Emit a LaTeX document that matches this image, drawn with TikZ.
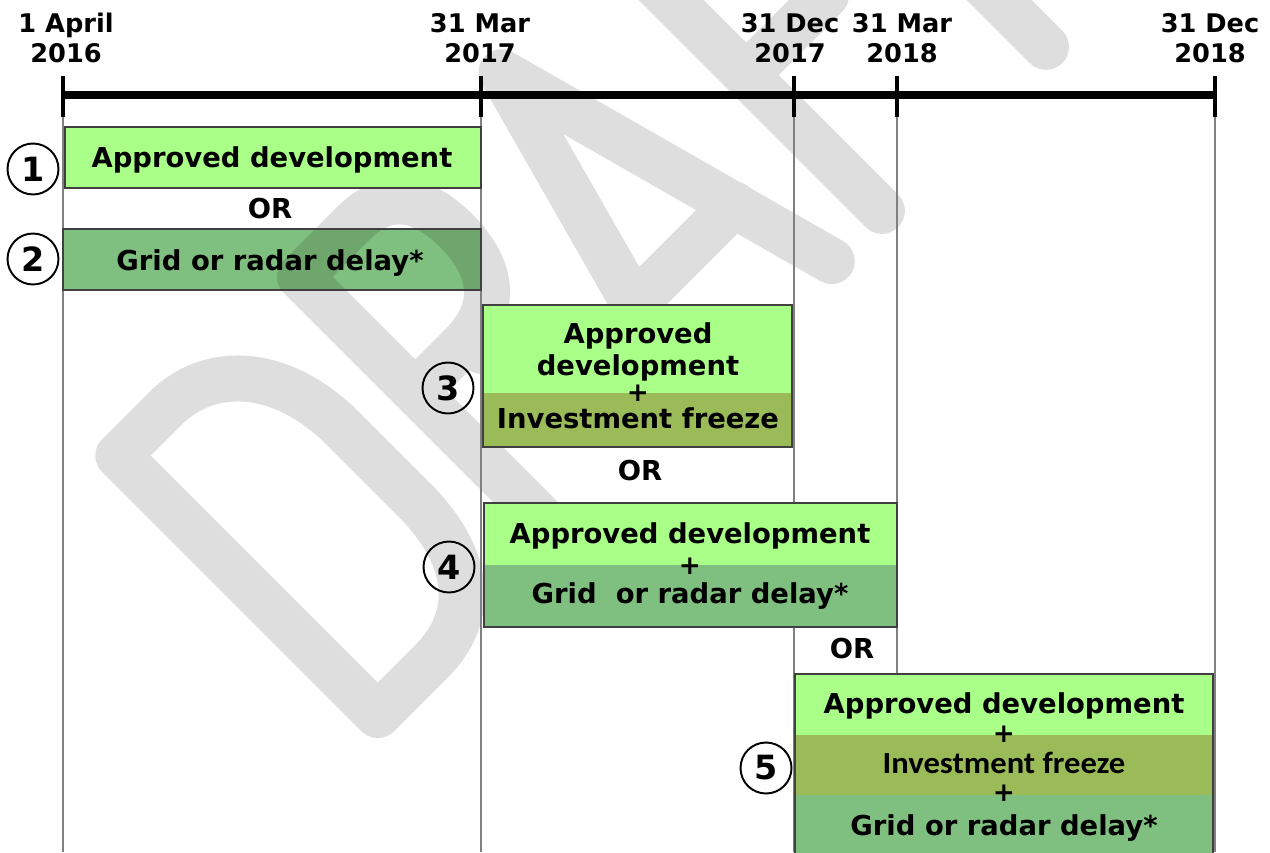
\documentclass[tikz,border=0pt]{standalone}
\usepackage{fontspec}
\setmainfont{DejaVu Sans}
\newfontfamily\narrowfont[FakeStretch=1.06]{Carlito}
\begin{document}
\begin{tikzpicture}[x=0.02cm,y=-0.02cm,
  lbl/.style={font=\bfseries\fontsize{15.6}{17}\selectfont,inner sep=0pt,anchor=base},
  date/.style={font=\bfseries\fontsize{14.6}{17}\selectfont,inner sep=0pt,align=center,anchor=south},
  plus/.style={font=\bfseries\fontsize{15}{17}\selectfont,inner sep=0pt,anchor=center},
  num/.style={circle,draw,line width=1.1pt,minimum size=1.02cm,inner sep=0pt,font=\bfseries\fontsize{19}{19}\selectfont},
  gridline/.style={draw=black!50,line width=0.8pt},
  box/.style={draw=black!75,line width=0.6pt}]
\useasboundingbox (0,0) rectangle (1270,852);
\definecolor{color1}{RGB}{170,255,136}
\definecolor{color2}{RGB}{155,187,89}
\definecolor{color3}{RGB}{127,191,127}
\definecolor{color4}{RGB}{222,222,222}
\coordinate[] (A1) at (63,95);
\coordinate[] (A2) at (481,95);
\coordinate[] (A3) at (794,95);
\coordinate[] (A4) at (897,95);
\coordinate[] (A5) at (1215,95);
% watermark
\begin{scope}[shift={(370,720)},x={(0.01414cm,0.01414cm)},y={(-0.01414cm,0.01414cm)},
  draw=color4,line width=0.92cm,line cap=round,line join=round]
\draw (9,-2) -- (9,365) -- (75,365) .. controls (140,365) and (187,310) .. (187,225) -- (187,125) .. controls (187,45) and (150,-2) .. (85,-2) -- cycle;
\draw (264,-2) -- (264,363) -- (340,363) .. controls (385,363) and (407,335) .. (407,285) .. controls (407,230) and (380,200) .. (330,200) -- (264,200);
\draw (330,200) -- (445,-2);
\draw (451,-2) -- (551,365) -- (651,-2);
\draw (480,107) -- (622,107);
\draw (722,-2) -- (722,365) -- (890,365);
\draw (722,190) -- (835,190);
\draw (954,-2) -- (954,365);
\draw (850,365) -- (1060,365);
\end{scope}
% time line
\foreach \x in {63,481,794,897,1215}
  \draw[gridline] (\x,117) -- (\x,852);
\draw[line width=0.16cm] (A1) -- (A5);
\foreach \x in {63,481,794,897,1215}
  \draw[line width=0.08cm] (\x,76) -- (\x,117);
\node[date] (L1) at (66,63) {1 April\\2016};
\node[date] (L2) at (480,63) {31 Mar\\2017};
\node[date] (L3) at (790,63) {31 Dec\\2017};
\node[date] (L4) at (902,63) {31 Mar\\2018};
\node[date] (L5) at (1210,63) {31 Dec\\2018};
% option 1 and 2
\draw[box,fill=color1] (65,127) rectangle (481,188);
\begin{scope}[blend mode=multiply]
\fill[color3] (63,229) rectangle (481,290);
\end{scope}
\draw[box] (63,229) rectangle (481,290);
\node[lbl] (B1) at (272,167) {Approved development};
\node[lbl] (O1) at (270,218) {OR};
\node[lbl] (B2) at (270,270) {Grid or radar delay*};
% option 3
\fill[color1] (483,305) rectangle (792,393);
\fill[color2] (483,393) rectangle (792,447);
\draw[box] (483,305) rectangle (792,447);
\node[lbl] (B3a) at (638,343) {Approved};
\node[lbl] (B3b) at (638,375) {development};
\node[plus] (P3) at (638,393) {+};
\node[lbl] (B3c) at (638,428) {Investment freeze};
\node[lbl] (O2) at (640,480) {OR};
% option 4
\fill[color1] (484,503) rectangle (897,565);
\fill[color3] (484,565) rectangle (897,627);
\draw[box] (484,503) rectangle (897,627);
\node[lbl] (B4a) at (690,543) {Approved development};
\node[plus] (P4) at (690,566) {+};
\node[lbl] (B4b) at (690,603) {Grid\ \ or radar delay*};
\node[lbl] (O3) at (852,658) {OR};
% option 5
\fill[color1] (795,674) rectangle (1213,735);
\fill[color2] (795,735) rectangle (1213,795);
\fill[color3] (795,795) rectangle (1213,860);
\draw[box] (795,674) rectangle (1213,860);
\node[lbl] (B5a) at (1004,713) {Approved development};
\node[plus] (P5a) at (1004,734) {+};
\node[lbl,font=\narrowfont\bfseries\fontsize{17.5}{17}\selectfont] (B5b) at (1004,773) {Investment freeze};
\node[plus] (P5b) at (1004,793) {+};
\node[lbl] (B5c) at (1004,835) {Grid or radar delay*};
% numbers
\node[num] (N1) at (33,169) {1};
\node[num] (N2) at (33,259) {2};
\node[num] (N3) at (448,388) {3};
\node[num] (N4) at (449,567) {4};
\node[num] (N5) at (766,768) {5};
\end{tikzpicture}
\end{document}
